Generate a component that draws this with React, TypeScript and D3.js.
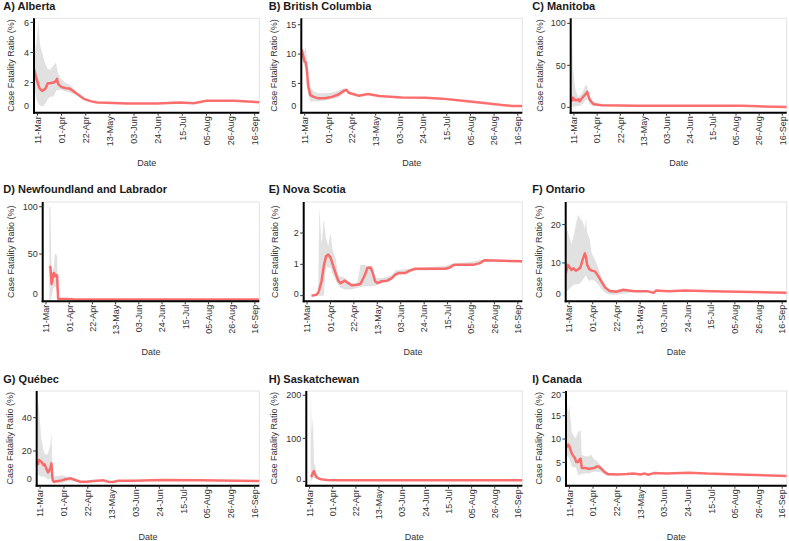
import React from "react";
import * as d3 from "d3";

type Row = [string, number, number, number]; // date (MM-DD, 2020), CFR, lower CI, upper CI

const alberta: Row[] = [
  ["03-08", 2.9, 2.0, 3.8], ["03-10", 2.3, 0.9, 4.6], ["03-12", 1.8, 0.6, 6.0], ["03-13", 1.6, 0.5, 4.6],
  ["03-15", 1.45, 0.4, 4.0], ["03-18", 1.6, 0.6, 3.2], ["03-20", 1.95, 0.9, 2.9], ["03-22", 1.95, 1.05, 2.85],
  ["03-25", 2.0, 1.1, 3.15], ["03-27", 2.1, 1.4, 3.35], ["03-28", 2.25, 1.5, 3.0], ["03-29", 1.9, 1.5, 2.6],
  ["04-01", 1.7, 1.5, 2.2], ["04-05", 1.62, 1.4, 1.95], ["04-08", 1.6, 1.35, 1.85], ["04-10", 1.5, 1.3, 1.72],
  ["04-14", 1.28, 1.17, 1.38], ["04-20", 0.94, 0.9, 0.98], ["04-26", 0.77, 0.74, 0.8], ["05-02", 0.68, 0.65, 0.71],
  ["05-10", 0.66, 0.63, 0.69], ["05-28", 0.61, 0.58, 0.64], ["06-23", 0.61, 0.58, 0.64], ["07-13", 0.68, 0.65, 0.71],
  ["07-25", 0.63, 0.6, 0.66], ["08-05", 0.79, 0.76, 0.82], ["08-29", 0.79, 0.76, 0.82], ["09-20", 0.7, 0.67, 0.73],
];

const britishColumbia: Row[] = [
  ["03-08", 10.8, 10.2, 11.3], ["03-09", 10.2, 9.0, 11.0], ["03-11", 8.7, 7.9, 10.5], ["03-12", 8.6, 6.6, 11.3],
  ["03-13", 7.3, 6.2, 9.0], ["03-14", 4.6, 3.2, 6.5], ["03-16", 3.0, 1.9, 4.5], ["03-19", 2.7, 1.9, 3.6],
  ["03-23", 2.45, 1.9, 3.3], ["03-29", 2.45, 2.1, 3.3], ["04-04", 2.7, 2.3, 3.4], ["04-10", 3.1, 2.6, 3.8],
  ["04-15", 3.76, 3.4, 4.15], ["04-17", 3.9, 3.6, 4.1], ["04-19", 3.4, 3.25, 3.6], ["04-28", 2.9, 2.8, 3.0],
  ["05-06", 3.2, 3.1, 3.3], ["05-16", 2.85, 2.78, 2.92], ["06-05", 2.6, 2.54, 2.66], ["06-26", 2.55, 2.5, 2.6],
  ["07-11", 2.4, 2.35, 2.45], ["07-29", 2.05, 2.0, 2.1], ["08-15", 1.7, 1.65, 1.75], ["09-02", 1.3, 1.25, 1.35],
  ["09-11", 1.15, 1.1, 1.2], ["09-20", 1.15, 1.1, 1.2],
];

const manitoba: Row[] = [
  ["03-09", 7, 0, 100], ["03-10", 11.6, 0.5, 48], ["03-12", 8.4, 1, 24], ["03-13", 8.4, 1, 18],
  ["03-15", 9.6, 1.5, 12], ["03-16", 7.2, 2, 14], ["03-19", 12, 4, 18], ["03-21", 15, 8, 26],
  ["03-23", 18.4, 10, 26], ["03-25", 10, 4.4, 12], ["03-27", 6.4, 2.5, 8], ["03-29", 3.6, 2, 6],
  ["04-05", 2.4, 1.8, 3.6], ["05-07", 2.0, 1.7, 2.4], ["08-10", 2.0, 1.8, 2.2], ["08-25", 1.2, 1.0, 1.4],
  ["09-20", 0.4, 0.3, 0.6],
];

const newfoundland: Row[] = [
  ["03-14", 37, 0, 100], ["03-15", 36, 0, 100], ["03-16", 18.3, 5, 30], ["03-17", 24.6, 10, 32],
  ["03-18", 30, 15, 36], ["03-19", 26.4, 15, 50], ["03-20", 28, 15, 50], ["03-21", 27.5, 10, 48],
  ["03-22", 2.5, 1, 3.5], ["03-30", 2.5, 2, 3], ["04-07", 1.8, 1.5, 2.1], ["09-20", 1.8, 1.6, 2.0],
];

const novaScotia: Row[] = [
  ["03-15", 0, 0, 0], ["03-17", 0.01, 0, 0.02], ["03-19", 0.03, 0, 0.05], ["03-21", 0.09, 0, 0.1],
  ["03-22", 0.2, 0, 2.82], ["03-24", 0.46, 0, 1.63], ["03-26", 0.94, 0, 2.46], ["03-28", 1.26, 0.95, 1.84],
  ["03-30", 1.31, 0.9, 1.57], ["04-01", 1.22, 0.9, 2.0], ["04-03", 1.0, 0.7, 1.46], ["04-06", 0.67, 0.45, 1.14],
  ["04-08", 0.48, 0.35, 0.67], ["04-10", 0.4, 0.25, 0.62], ["04-14", 0.48, 0.2, 0.56], ["04-17", 0.4, 0.2, 0.46],
  ["04-20", 0.33, 0.2, 0.37], ["04-25", 0.35, 0.25, 0.42], ["04-28", 0.38, 0.28, 0.99], ["05-02", 0.67, 0.3, 0.98],
  ["05-04", 0.88, 0.3, 0.95], ["05-07", 0.9, 0.3, 0.93], ["05-09", 0.72, 0.3, 0.9], ["05-11", 0.46, 0.32, 0.56],
  ["05-13", 0.4, 0.35, 0.56], ["05-17", 0.46, 0.4, 0.56], ["05-22", 0.48, 0.42, 0.6], ["05-26", 0.56, 0.5, 0.65],
  ["05-29", 0.67, 0.6, 0.8], ["06-01", 0.72, 0.65, 0.82], ["06-07", 0.72, 0.7, 0.84], ["06-11", 0.8, 0.75, 0.86],
  ["06-16", 0.86, 0.8, 0.88], ["07-13", 0.86, 0.82, 0.95], ["07-17", 0.9, 0.85, 1.0], ["07-21", 0.99, 0.95, 1.02],
  ["08-08", 0.99, 0.97, 1.1], ["08-13", 1.04, 1.0, 1.14], ["08-17", 1.13, 1.08, 1.15], ["08-26", 1.12, 1.08, 1.14],
  ["09-20", 1.1, 1.07, 1.13],
];

const ontario: Row[] = [
  ["03-08", 7.3, 2.2, 20], ["03-10", 9.5, 2.8, 18], ["03-12", 8.6, 3.5, 16], ["03-13", 8.2, 3.8, 14.8],
  ["03-15", 8.6, 4.3, 17], ["03-17", 8.0, 4.4, 20], ["03-19", 8.3, 4.5, 22.6], ["03-21", 8.8, 4.8, 21.5],
  ["03-23", 10.8, 5.5, 20.9], ["03-25", 12.5, 6.5, 19], ["03-26", 11.5, 6.8, 21.7], ["03-27", 9.5, 6, 18],
  ["03-29", 8.4, 5.2, 16.5], ["03-31", 8.0, 5.7, 12.6], ["04-03", 7.8, 5.2, 10.9], ["04-06", 6.5, 4.3, 8.7],
  ["04-09", 5.0, 3.0, 6.1], ["04-12", 3.6, 2.2, 3.9], ["04-16", 2.7, 1.7, 3.0], ["04-22", 2.5, 1.7, 3.0],
  ["04-28", 3.0, 2.0, 3.2], ["05-08", 2.6, 2.4, 2.8], ["05-20", 2.6, 2.45, 2.75], ["05-25", 2.2, 2.1, 2.3],
  ["05-27", 2.8, 2.7, 2.9], ["06-07", 2.6, 2.5, 2.7], ["06-22", 2.8, 2.7, 2.9], ["07-16", 2.6, 2.5, 2.7],
  ["08-20", 2.4, 2.3, 2.5], ["09-20", 2.2, 2.1, 2.3],
];

const quebec: Row[] = [
  ["03-09", 11.6, 5.6, 52.6], ["03-10", 14.6, 5.6, 45.6], ["03-12", 13.6, 4.6, 27.6], ["03-14", 11.6, 4.6, 20.6],
  ["03-15", 12.0, 4.6, 18.5], ["03-17", 8.6, 3.5, 17.6], ["03-18", 7.2, 2.6, 18.6], ["03-20", 9.6, 3.6, 23.6],
  ["03-21", 12.6, 3.6, 30.6], ["03-22", 2.6, 0.6, 6.6], ["03-23", 1.6, 0.6, 4.6], ["03-27", 2.0, 0.6, 5.0],
  ["03-30", 2.4, 1.0, 5.6], ["04-03", 3.2, 1.6, 4.6], ["04-07", 3.6, 2.0, 4.6], ["04-11", 2.6, 1.6, 3.2],
  ["04-15", 1.6, 1.2, 2.0], ["04-21", 1.6, 1.3, 1.9], ["04-27", 2.0, 1.8, 2.2], ["05-06", 2.4, 2.2, 2.6],
  ["05-10", 1.6, 1.4, 1.8], ["05-14", 1.4, 1.2, 1.6], ["05-19", 2.2, 2.0, 2.4], ["06-01", 2.2, 2.0, 2.4],
  ["06-25", 2.6, 2.4, 2.8], ["07-30", 2.4, 2.2, 2.6], ["09-20", 2.0, 1.8, 2.2],
];

const saskatchewan: Row[] = [
  ["03-12", 11, 0, 200], ["03-13", 13, 3, 110], ["03-14", 20, 7, 151], ["03-15", 24, 8, 39],
  ["03-16", 16.5, 7, 39], ["03-17", 11, 6, 15], ["03-19", 7, 3, 10], ["03-22", 4.7, 2, 6],
  ["03-27", 3, 1.5, 4], ["04-06", 2.4, 1.8, 3], ["09-20", 2.4, 2.0, 2.8],
];

const canada: Row[] = [
  ["03-08", 8.1, 6.6, 18.8], ["03-10", 8.8, 6.2, 15.6], ["03-11", 8.4, 5.8, 17.4], ["03-13", 7.0, 4.1, 11.6],
  ["03-15", 6.2, 4.0, 10.6], ["03-16", 5.9, 3.9, 10.2], ["03-17", 5.1, 3.8, 10.5], ["03-19", 5.1, 2.2, 11.6],
  ["03-20", 5.6, 2.3, 11.7], ["03-21", 5.8, 2.5, 11.7], ["03-22", 3.8, 2.5, 6.6], ["03-25", 3.8, 2.6, 6.3],
  ["03-29", 3.6, 2.6, 6.3], ["03-30", 3.7, 2.8, 6.8], ["04-02", 3.8, 3.0, 5.6], ["04-04", 4.1, 3.0, 5.4],
  ["04-06", 4.1, 3.0, 4.9], ["04-08", 3.7, 2.9, 4.3], ["04-11", 3.0, 2.4, 3.3], ["04-14", 2.5, 2.1, 2.8],
  ["04-22", 2.4, 2.3, 2.55], ["05-01", 2.5, 2.4, 2.6], ["05-07", 2.6, 2.5, 2.7], ["05-13", 2.4, 2.3, 2.5],
  ["05-17", 2.6, 2.5, 2.7], ["05-20", 2.35, 2.25, 2.45], ["05-25", 2.7, 2.6, 2.8], ["06-05", 2.6, 2.5, 2.7],
  ["06-25", 2.8, 2.7, 2.9], ["07-11", 2.6, 2.5, 2.7], ["08-08", 2.4, 2.3, 2.5], ["09-20", 2.1, 2.0, 2.2],
];

const panelTitles = [
  "A) Alberta", "B) British Columbia", "C) Manitoba",
  "D) Newfoundland and Labrador", "E) Nova Scotia", "F) Ontario",
  "G) Québec", "H) Saskatchewan", "I) Canada",
];
const panelData = [alberta, britishColumbia, manitoba, newfoundland, novaScotia, ontario, quebec, saskatchewan, canada];
const yTickSets = [
  [0, 2, 4, 6], [0, 5, 10, 15], [0, 50, 100],
  [0, 50, 100], [0, 1, 2], [0, 10, 20],
  [0, 20, 40], [0, 100, 200], [0, 5, 10, 15, 20],
];
const yDomains: [number, number][] = [
  [0, 6.27], [0, 16.1], [-6.35, 106],
  [0, 105], [-0.18, 2.99], [0, 25.9],
  [-0.8, 56], [-10, 210], [0, 20.3],
];
const xTicks = ["03-11", "04-01", "04-22", "05-13", "06-03", "06-24", "07-15", "08-05", "08-26", "09-16"];
const xRange = ["03-08", "09-20"];
const yTitle = "Case Fatality Ratio (%)";
const xTitle = "Date";

// layout
const plotLefts = [34, 301.3, 570.7, 42.7, 303.7, 565.7, 36.7, 306.3, 566];
const colRights = [259.3, 522.3, 786.7];
const colTitleX = [3.3, 268.7, 532.3];
const yTitleX = [10.7, 273.7, 539.5, 10.7, 274.7, 539.3, 10.3, 274.3, 539];
const rowTops = [18.3, 202, 391];
const rowBottoms = [112.7, 301.3, 485.7];
const rowTitleY = [9.5, 193, 382.5];
const rowDateY = [165.5, 354.5, 539.5];

const parse = (s: string) => d3.timeParse("%Y-%m-%d")("2020-" + s) as Date;
const fmt = d3.timeFormat("%d-%b");
const FONT = "'Liberation Sans', Arial, Helvetica, sans-serif";

function Panel({ i }: { i: number }) {
  const row = Math.floor(i / 3);
  const col = i % 3;
  const left = plotLefts[i];
  const right = colRights[col];
  const top = rowTops[row];
  const bottom = rowBottoms[row];
  const data = panelData[i];
  const x = d3.scaleTime().domain(xRange.map(parse)).range([left, right]);
  const y = d3.scaleLinear().domain(yDomains[i]).range([bottom, top]);
  const area = d3
    .area<Row>()
    .x((d) => x(parse(d[0])))
    .y0((d) => y(d[2]))
    .y1((d) => y(d[3]));
  const line = d3
    .line<Row>()
    .x((d) => x(parse(d[0])))
    .y((d) => y(d[1]));
  const clipId = `clip-${i}`;
  return (
    <g>
      <defs>
        <clipPath id={clipId}>
          <rect x={left} y={top} width={right - left} height={bottom - top} />
        </clipPath>
      </defs>
      <text x={colTitleX[col]} y={rowTitleY[row]} fontSize={11} fontWeight="bold" fill="#1a1a1a" fontFamily={FONT}>
        {panelTitles[i]}
      </text>
      <rect x={left} y={top} width={right - left} height={bottom - top} fill="#fff" stroke="#e3e3e3" strokeWidth={1} />
      <g clipPath={`url(#${clipId})`}>
        <path d={area(data) || ""} fill="#bdbdbd" fillOpacity={0.45} stroke="none" />
        <path d={line(data) || ""} fill="none" stroke="#ff4d4d" strokeOpacity={0.8} strokeWidth={2.5} strokeLinejoin="round" />
      </g>
      <line x1={left} y1={top} x2={left} y2={bottom + 1} stroke="#000" strokeWidth={2} />
      <line x1={left - 1} y1={bottom} x2={right} y2={bottom} stroke="#000" strokeWidth={2} />
      {yTickSets[i].map((t) => {
        const ty = y(t);
        const ly = Math.min(Math.max(ty, top + 4), bottom - 7);
        return (
          <g key={t}>
            {ty >= top - 0.5 && ty <= bottom - 1.5 && (
              <line x1={left - 3.5} x2={left} y1={ty} y2={ty} stroke="#333" strokeWidth={1} />
            )}
            <text x={left - 5} y={ly} dy="0.35em" textAnchor="end" fontSize={9} fill="#333" fontFamily={FONT}>
              {t}
            </text>
          </g>
        );
      })}
      {xTicks.map((t) => {
        const tx = x(parse(t));
        return (
          <g key={t}>
            <line x1={tx} x2={tx} y1={bottom} y2={bottom + 3} stroke="#333" strokeWidth={1} />
            <text
              transform={`translate(${tx + 3.3},${bottom + 3.5}) rotate(-90)`}
              textAnchor="end"
              fontSize={9}
              fill="#333"
              fontFamily={FONT}
            >
              {fmt(parse(t))}
            </text>
          </g>
        );
      })}
      <text
        transform={`translate(${yTitleX[i]},${(top + bottom) / 2}) rotate(-90)`}
        textAnchor="middle"
        dy="0.35em"
        fontSize={9}
        fill="#333"
        fontFamily={FONT}
      >
        {yTitle}
      </text>
      <text x={(left + right) / 2} y={rowDateY[row]} textAnchor="middle" fontSize={9} fill="#333" fontFamily={FONT}>
        {xTitle}
      </text>
    </g>
  );
}

export default function App() {
  return (
    <svg
      width={789}
      height={541}
      viewBox="0 0 789 541"
      style={{ position: "absolute", left: 0, top: 0, background: "#fff" }}
    >
      <rect width={789} height={541} fill="#fff" />
      {panelTitles.map((_, i) => (
        <Panel key={i} i={i} />
      ))}
    </svg>
  );
}
